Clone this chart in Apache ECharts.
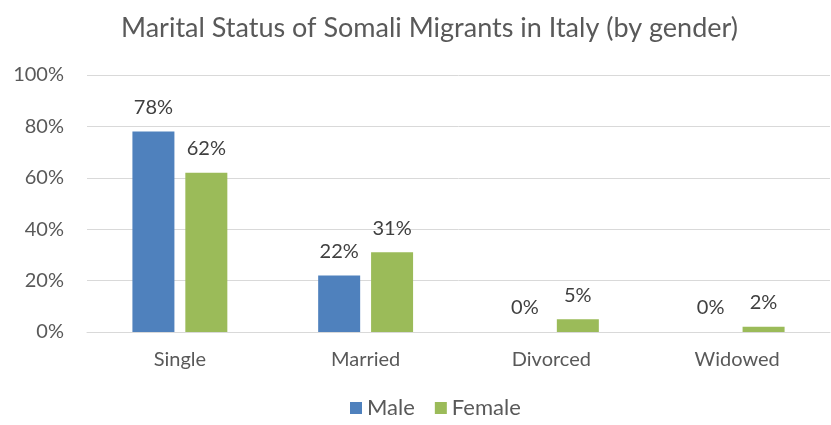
<!DOCTYPE html>
<html>
<head>
<meta charset="utf-8">
<script src="https://cdn.jsdelivr.net/npm/echarts@6/dist/echarts.min.js"></script>
<style>
  html, body { margin: 0; padding: 0; background: #fff; }
  #chart { width: 831px; height: 425px; }
</style>
</head>
<body>
<div id="chart"></div>
<script>
var categories = ['Single', 'Married', 'Divorced', 'Widowed'];
var maleValues = [78, 22, 0, 0];
var femaleValues = [62, 31, 5, 2];
var yTicks = [0, 20, 40, 60, 80, 100];

var textColor = '#595959';
var fontName = 'Lato';

var myChart = echarts.init(document.getElementById('chart'));

var labelStyle = {
    show: true,
    position: 'top',
    distance: 14,
    color: '#404040',
    fontSize: 20,
    fontFamily: fontName,
    formatter: function (p) { return p.value + '%'; }
};

var option = {
    animation: false,
    textStyle: { fontFamily: fontName },
    title: {
        text: 'Marital Status of Somali Migrants in Italy (by gender)',
        left: 116,
        top: 10,
        textStyle: {
            fontSize: 27,
            fontWeight: 'normal',
            color: textColor,
            fontFamily: fontName
        }
    },
    legend: {
        bottom: 1,
        left: 345,
        itemWidth: 12,
        itemHeight: 12,
        itemGap: 20,
        icon: 'rect',
        textStyle: { fontSize: 22, color: textColor, fontFamily: fontName },
        data: ['Male', 'Female']
    },
    grid: {
        left: 87,
        right: 1,
        top: 75,
        bottom: 93
    },
    xAxis: {
        type: 'category',
        data: categories,
        axisTick: { show: false },
        axisLine: { lineStyle: { color: '#d9d9d9', width: 1 } },
        axisLabel: { fontSize: 20, color: textColor, margin: 18, fontFamily: fontName }
    },
    yAxis: {
        type: 'value',
        min: yTicks[0],
        max: yTicks[yTicks.length - 1],
        interval: 20,
        axisLine: { show: false },
        axisTick: { show: false },
        splitLine: { lineStyle: { color: '#d9d9d9', width: 1 } },
        axisLabel: {
            fontSize: 20,
            color: textColor,
            margin: 23,
            fontFamily: fontName,
            formatter: '{value}%'
        }
    },
    series: [
        {
            name: 'Male',
            type: 'bar',
            data: maleValues,
            barWidth: 42,
            barGap: '26%',
            itemStyle: { color: '#4F81BD' },
            label: labelStyle
        },
        {
            name: 'Female',
            type: 'bar',
            data: femaleValues,
            barWidth: 42,
            itemStyle: { color: '#9BBB59' },
            label: labelStyle
        }
    ]
};
myChart.setOption(option);
</script>
</body>
</html>
